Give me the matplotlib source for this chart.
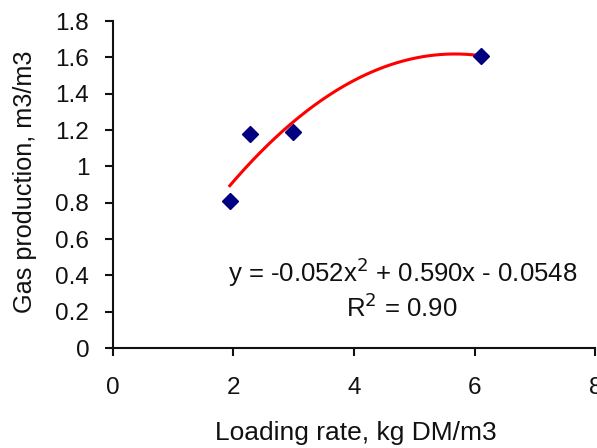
import numpy as np
import matplotlib.pyplot as plt

plt.rcParams['font.family'] = ['Liberation Sans', 'DejaVu Sans']

# measured points
loading_rate = [1.94, 2.27, 2.99, 6.11]
gas_production = [0.81, 1.18, 1.19, 1.61]

# trendline coefficients as printed on the chart (a*x^2 + b*x + c)
poly_coef = [-0.052, 0.590, -0.0548]
r_squared = 0.90

x_ticks = [0, 2, 4, 6, 8]
y_ticks = [0, 0.2, 0.4, 0.6, 0.8, 1.0, 1.2, 1.4, 1.6, 1.8]
y_tick_labels = ['0', '0.2', '0.4', '0.6', '0.8', '1', '1.2', '1.4', '1.6', '1.8']

fig = plt.figure(figsize=(5.97, 4.48), dpi=100)
ax = fig.add_axes([0.189, 0.223, 0.808, 0.730])

xs = np.linspace(min(loading_rate), max(loading_rate), 200)
ax.plot(xs, np.polyval(poly_coef, xs), color='#ff0000', lw=2.2, zorder=2)
ax.plot(loading_rate, gas_production, ls='none', marker='D', ms=8,
        color='#000080', zorder=3)

ax.set_xlim(0, 8)
ax.set_ylim(0, 1.8)
ax.set_xticks(x_ticks)
ax.set_xticklabels([str(t) for t in x_ticks])
ax.set_yticks(y_ticks)
ax.set_yticklabels(y_tick_labels)

for side in ['top', 'right']:
    ax.spines[side].set_visible(False)
for side in ['left', 'bottom']:
    ax.spines[side].set_linewidth(1.5)
    ax.spines[side].set_color('#111111')

ax.tick_params(axis='x', direction='out', length=6, width=1.5, pad=15,
               labelsize=17.5, colors='#111111')
ax.tick_params(axis='y', direction='out', length=6, width=1.5, pad=11,
               labelsize=17.5, colors='#111111')

ax.set_xlabel('Loading rate, kg DM/m3', fontsize=19, color='#111111')
ax.set_ylabel('Gas production, m3/m3', fontsize=18.2, color='#111111')
ax.xaxis.set_label_coords(0.504, -0.223)
ax.yaxis.set_label_coords(-0.158, 0.51)

eq = 'y = -0.052x$^2$ + 0.590x - 0.0548'
ax.text(4.80, 0.363, eq, ha='center', va='baseline', fontsize=18.5, color='#111111')
ax.text(4.80, 0.171, 'R$^2$ = %.2f' % r_squared, ha='center', va='baseline',
        fontsize=18.5, color='#111111')

fig.savefig('out.png', dpi=100)
